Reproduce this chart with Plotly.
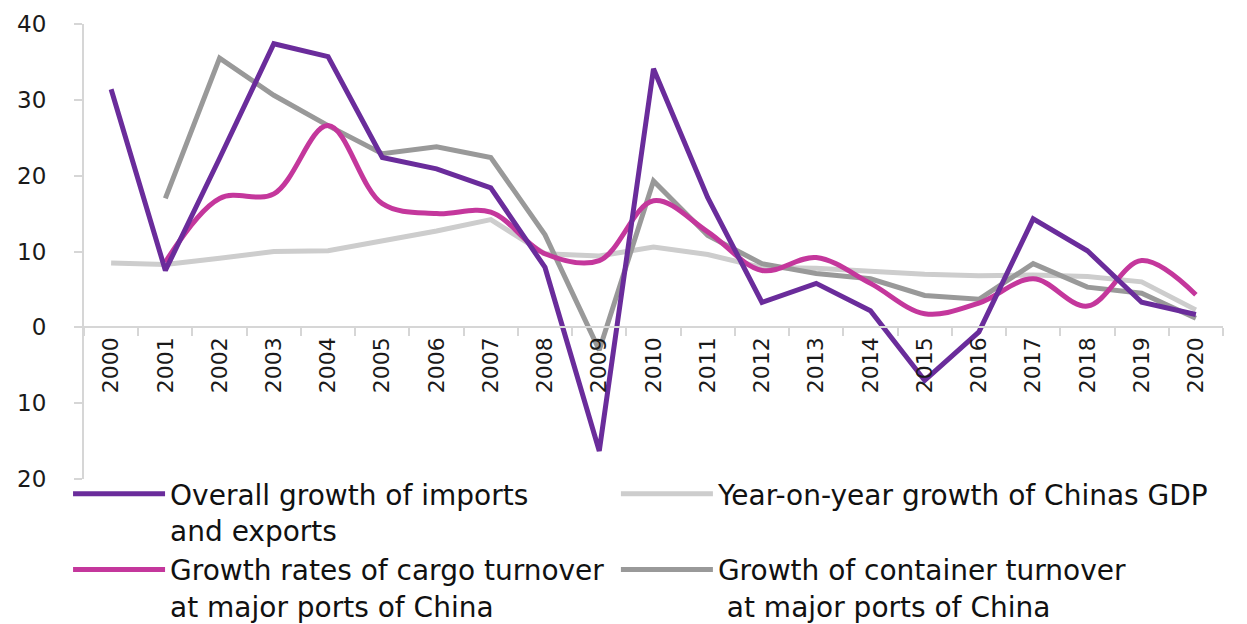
import plotly.graph_objects as go

years = [str(y) for y in range(2000, 2021)]

trade_growth = [31.4, 7.5, 22.3, 37.4, 35.7, 22.4, 20.9, 18.4, 7.9, -16.3, 34.1,
                17.1, 3.3, 5.8, 2.2, -7.0, -0.6, 14.3, 10.1, 3.3, 1.7]
cargo_growth = [None, 8.6, 17.0, 17.6, 26.6, 16.3, 15.0, 15.2, 9.7, 8.8, 16.7,
                12.6, 7.5, 9.2, 5.8, 1.8, 3.2, 6.4, 2.8, 8.8, 4.3]
gdp_growth = [8.5, 8.3, 9.1, 10.0, 10.1, 11.4, 12.7, 14.2, 9.7, 9.4, 10.6,
              9.6, 7.9, 7.8, 7.4, 7.0, 6.8, 6.9, 6.7, 6.0, 2.3]
container_growth = [None, 17.0, 35.5, 30.6, 26.6, 22.9, 23.8, 22.4, 12.2, -3.0, 19.3,
                    12.1, 8.4, 7.1, 6.4, 4.2, 3.7, 8.4, 5.3, 4.5, 1.2]

names = {
    "trade": "Overall growth of imports<br>and exports",
    "gdp": "Year-on-year growth of Chinas GDP<br> ",
    "cargo": "Growth rates of cargo turnover<br>at major ports of China",
    "container": "Growth of container turnover<br> at major ports of China",
}

y_tickvals = [40, 30, 20, 10, 0, -10, -20]
y_ticktext = ["40", "30", "20", "10", "0", "10", "20"]

FONT = "DejaVu Sans"

fig = go.Figure()
fig.add_trace(go.Scatter(x=years, y=gdp_growth, name=names["gdp"], mode="lines",
                         line=dict(color="#cdcdcd", width=5), legend="legend2", legendrank=1))
fig.add_trace(go.Scatter(x=years, y=container_growth, name=names["container"], mode="lines",
                         line=dict(color="#999999", width=5), legend="legend2", legendrank=2))
fig.add_trace(go.Scatter(x=years, y=cargo_growth, name=names["cargo"], mode="lines",
                         line=dict(color="#c4379c", width=5, shape="spline", smoothing=1.0),
                         legend="legend", legendrank=2))
fig.add_trace(go.Scatter(x=years, y=trade_growth, name=names["trade"], mode="lines",
                         line=dict(color="#6a2c9b", width=5), legend="legend", legendrank=1))

legend_common = dict(
    orientation="v", yanchor="top", y=0.022, xanchor="left",
    itemwidth=92, valign="top", traceorder="normal", tracegroupgap=0,
    font=dict(size=28, family=FONT, color="#111111"),
    bgcolor="rgba(0,0,0,0)",
)

# the page body adds an 8px offset; margins compensate so the plot area
# spans x 84..1223 and y 24..479 in the screenshot
fig.update_layout(
    width=1247, height=624,
    paper_bgcolor="white", plot_bgcolor="white",
    margin=dict(l=76, r=32, t=16, b=153, autoexpand=False),
    font=dict(family=FONT, color="#1a1a1a"),
    xaxis=dict(
        type="category", range=[-0.5, 20.5],
        anchor="free", position=1/3,
        showline=True, linecolor="#d6d6d6", linewidth=2,
        ticks="outside", tickson="boundaries", ticklen=8, tickcolor="#d6d6d6", tickwidth=2,
        tickangle=-90, tickfont=dict(size=22, family=FONT, color="#1a1a1a"),
        showgrid=False, zeroline=False,
    ),
    yaxis=dict(
        range=[-20, 40], tickvals=y_tickvals, ticktext=y_ticktext,
        showline=True, linecolor="#d6d6d6", linewidth=2,
        ticks="outside", ticklen=8, tickcolor="#d6d6d6", tickwidth=2,
        tickfont=dict(size=23, family=FONT, color="#1a1a1a"),
        ticklabelstandoff=23,
        showgrid=False, zeroline=False,
    ),
    showlegend=True,
    legend=dict(x=-0.014, **legend_common),
    legend2=dict(x=0.467, **legend_common),
)

fig.write_html("out.html")
